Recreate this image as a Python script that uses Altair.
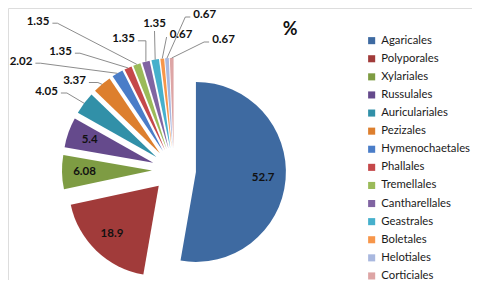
import math
import pandas as pd
import altair as alt

# ---- data ----
names = ["Agaricales", "Polyporales", "Xylariales", "Russulales", "Auriculariales",
         "Pezizales", "Hymenochaetales", "Phallales", "Tremellales", "Cantharellales",
         "Geastrales", "Boletales", "Helotiales", "Corticiales"]
values = [52.7, 18.9, 6.08, 5.4, 4.05, 3.37, 2.02, 1.35, 1.35, 1.35, 1.35, 0.67, 0.67, 0.67]
colors = ["#3E6AA1", "#A13B3A", "#7E9C43", "#654A8C", "#3190A8", "#DD7F2E", "#4A7DC8",
          "#C5484A", "#9BBB59", "#8064A2", "#46B0CC", "#F7964A", "#A9B8DF", "#DDA5A5"]
inside = ["Agaricales", "Polyporales", "Xylariales", "Russulales"]

# ---- layout (annotation placement, page pixels) ----
M = 8                      # page margin
CX, CY = 174 - M, 170 - M  # pie centre
R = 90                     # pie radius
D = 22                     # explosion distance
# outside labels: centre x, centre y, side the leader leaves from, elbow length
outside_layout = {
    "Auriculariales": (46.5, 91.5, "r", 6),
    "Pezizales": (74.5, 81, "r", 9),
    "Hymenochaetales": (21, 61.7, "r", 5),
    "Phallales": (60.5, 51.7, "r", 5),
    "Tremellales": (38, 21.7, "r", 5),
    "Cantharellales": (123.5, 39.3, "r", 8),
    "Geastrales": (154.5, 24, "b", 0),
    "Boletales": (181, 35, "l", 0),
    "Helotiales": (204.7, 15, "l", 5),
    "Corticiales": (223.5, 40, "l", 5),
}

total = sum(values)
rows, leader = [], []
acc = 0.0
for n, v in zip(names, values):
    s, e = acc, acc + v
    acc = e
    mid = (s + e) / 2 / total * 2 * math.pi
    ux, uy = math.sin(mid), -math.cos(mid)
    cx, cy = CX + D * ux, CY + D * uy
    rec = dict(name=n, value=v, start=s, end=e, cx=cx, cy=cy,
               label=f"{v:g}", lx=None, ly=None)
    if n in inside:
        rec["lx"] = CX + (D + 0.75 * R) * ux
        rec["ly"] = CY + (D + 0.75 * R) * uy
    else:
        tx, ty, side, el = outside_layout[n]
        tx, ty = tx - M, ty - M
        rec["lx"], rec["ly"] = tx, ty
        hw = 3.1 * len(rec["label"]) + 0.5
        if side == "r":
            ax, ay, ex, ey = tx + hw + 1.5, ty + 1.5, tx + hw + 1.5 + el, ty + 1.5
        elif side == "l":
            ax, ay, ex, ey = tx - hw - 1.5, ty + 2, tx - hw - 1.5 - el, ty + 2
        else:
            ax, ay, ex, ey = tx, ty + 7, tx, ty + 7
        px, py = CX + (D + R) * ux, CY + (D + R) * uy
        for i, (x, y) in enumerate([(ax, ay), (ex, ey), (px, py)]):
            leader.append(dict(name=n, seq=i, x=x, y=y))
    rows.append(rec)

df = pd.DataFrame(rows)
ldf = pd.DataFrame(leader)

W, H = 480 - 2 * M, 288 - 2 * M

arcs = alt.Chart(df).mark_arc(radius=R).encode(
    theta=alt.Theta("start:Q", scale=alt.Scale(domain=[0, total], range=[0, 2 * math.pi])),
    theta2="end:Q",
    x=alt.X("cx:Q", scale=None),
    y=alt.Y("cy:Q", scale=None),
    color=alt.Color(
        "name:N",
        scale=alt.Scale(domain=names, range=colors),
        legend=alt.Legend(
            title=None, orient="none", legendX=358, legendY=27, padding=0,
            symbolType="square", symbolSize=50, symbolStrokeWidth=0,
            labelFont="Lato", labelFontSize=11.3, labelColor="#1a1a1a",
            labelOffset=4, rowPadding=6.1, labelLimit=200,
        ),
    ),
    order=alt.Order("start:Q"),
)

lines = alt.Chart(ldf).mark_line(color="#6e6e6e", strokeWidth=0.8).encode(
    x=alt.X("x:Q", scale=None),
    y=alt.Y("y:Q", scale=None),
    detail="name:N",
    order="seq:Q",
)

labels = alt.Chart(df).mark_text(
    font="Lato", fontSize=11.5, fontWeight="bold", color="#111111",
    align="center", baseline="middle",
).encode(
    x=alt.X("lx:Q", scale=None),
    y=alt.Y("ly:Q", scale=None),
    text="label:N",
)

title = alt.Chart(pd.DataFrame({"t": ["%"]})).mark_text(
    font="Lato", fontSize=18, fontWeight="bold", color="#111111",
    align="center", baseline="middle",
).encode(x=alt.value(290 - M), y=alt.value(30 - M), text="t:N")

chart = alt.layer(arcs, lines, labels, title).properties(
    width=W, height=H, padding=0, autosize="none",
).configure_view(stroke=None).configure(background="white")

chart.save("out.html", embed_options={"renderer": "svg", "actions": False})
